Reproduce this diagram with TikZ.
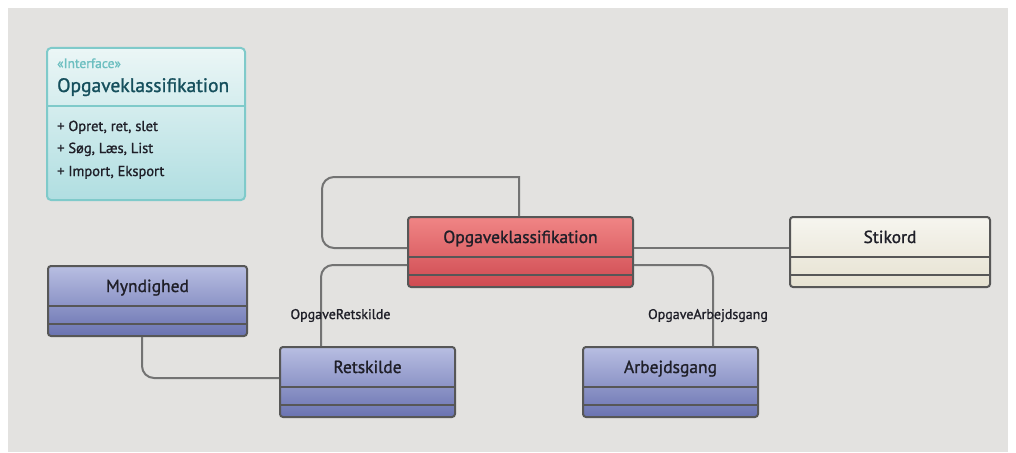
\documentclass[tikz,border=0pt]{standalone}
\usepackage{fontspec}
\setmainfont{PT Sans}[BoldFont={PT Sans}, BoldFeatures={FakeBold=1.2}]
\usetikzlibrary{calc}

\definecolor{bgcol}{HTML}{E3E2E0}
\definecolor{edgecol}{HTML}{575757}
\definecolor{linkcol}{HTML}{737373}
\definecolor{txtcol}{HTML}{1F1F28}
\definecolor{redtop}{HTML}{F08585}
\definecolor{redbot}{HTML}{CF4A51}
\definecolor{bluetop}{HTML}{B8BEE2}
\definecolor{bluebot}{HTML}{6A73B1}
\definecolor{creamtop}{HTML}{F6F5EF}
\definecolor{creambot}{HTML}{E6E2D1}
\definecolor{tealtop}{HTML}{EBF6F6}
\definecolor{tealbot}{HTML}{B0DEE1}
\definecolor{tealedge}{HTML}{7FCACA}
\definecolor{tealstereo}{HTML}{6CBFC0}
\definecolor{tealtitle}{HTML}{154F5C}

\tikzset{
  classbox/.style={draw=edgecol, line width=2pt, rounded corners=3pt,
    minimum height=70pt, inner sep=0pt, anchor=north west},
  redclass/.style={classbox, top color=redtop, bottom color=redbot},
  blueclass/.style={classbox, top color=bluetop, bottom color=bluebot},
  creamclass/.style={classbox, top color=creamtop, bottom color=creambot},
  divider/.style={draw=edgecol, line width=2pt},
  classname/.style={font=\fontsize{17.5}{19}\selectfont\bfseries, text=txtcol, inner sep=0pt, anchor=base},
  link/.style={draw=linkcol, line width=2pt, rounded corners=12pt},
  linklabel/.style={font=\fontsize{14}{16}\selectfont\bfseries, text=txtcol, inner sep=0pt, anchor=base},
  member/.style={font=\fontsize{14.5}{16}\selectfont\bfseries, text=txtcol, inner sep=0pt, anchor=base west},
}

\begin{document}
\begin{tikzpicture}[x=1pt, y=-1pt]
  \useasboundingbox (0,0) rectangle (1016,452);
  \fill[white] (0,0) rectangle (1016,452);
  \fill[bgcol] (8,8) rectangle (1008,452);

  % interface box
  \node[draw=tealedge, line width=2pt, rounded corners=4pt, top color=tealtop,
        bottom color=tealbot, minimum width=198pt, minimum height=152pt,
        inner sep=0pt, anchor=north west] (iface) at (46,47) {};
  \draw[draw=tealedge, line width=2pt] ([yshift=-59pt]iface.north west) -- ([yshift=-59pt]iface.north east);
  \node[font=\fontsize{13.5}{15}\selectfont\bfseries, text=tealstereo, inner sep=0pt, anchor=base west] (stereo) at (57,68) {«Interface»};
  \node[font=\fontsize{19.5}{21}\selectfont\bfseries, text=tealtitle, inner sep=0pt, anchor=base west] (ifacename) at (57,92) {Opgaveklassifikation};
  \node[member] (m1) at (57,131) {+ Opret, ret, slet};
  \node[member] (m2) at (57,153) {+ Søg, Læs, List};
  \node[member] (m3) at (57,176) {+ Import, Eksport};

  % classes
  \node[redclass, minimum width=225pt] (opg) at (407,216) {};
  \node[creamclass, minimum width=200pt] (stik) at (789,216) {};
  \node[blueclass, minimum width=199pt] (mynd) at (47,265) {};
  \node[blueclass, minimum width=175pt] (rets) at (279,346) {};
  \node[blueclass, minimum width=175pt] (arb) at (582,346) {};

  \foreach \b in {opg,stik,mynd,rets,arb}{
    \draw[divider] ([yshift=-41pt]\b.north west) -- ([yshift=-41pt]\b.north east);
    \draw[divider] ([yshift=-59pt]\b.north west) -- ([yshift=-59pt]\b.north east);
  }

  \node[classname] (opgname) at ($(opg.north)+(0,27)$) {Opgaveklassifikation};
  \node[classname] (stikname) at ($(stik.north)+(0,27)$) {Stikord};
  \node[classname] (myndname) at ($(mynd.north)+(0,27)$) {Myndighed};
  \node[classname] (retsname) at ($(rets.north)+(0,27)$) {Retskilde};
  \node[classname] (arbname) at ($(arb.north)+(0,27)$) {Arbejdsgang};

  % associations
  \coordinate (loopA) at (322,177);
  \draw[link] ([yshift=-32pt]opg.north west) -- (322,248) -- (loopA)
        [sharp corners] -- (519,177) -- (opg.north -| 519,0);
  \draw[link] ([yshift=-32pt]opg.north east) -- ([yshift=-32pt]stik.north west);
  \draw[link] ([yshift=-49pt]opg.north west) -| (rets.north -| 321,0);
  \draw[link] ([yshift=-49pt]opg.north east) -| (arb.north -| 713,0);
  \draw[link] (mynd.south -| 142,0) |- ([yshift=-32pt]rets.north west);

  \node[linklabel] (lblrets) at (340.5,319) {OpgaveRetskilde};
  \node[linklabel] (lblarb) at (708,319) {OpgaveArbejdsgang};
\end{tikzpicture}
\end{document}
